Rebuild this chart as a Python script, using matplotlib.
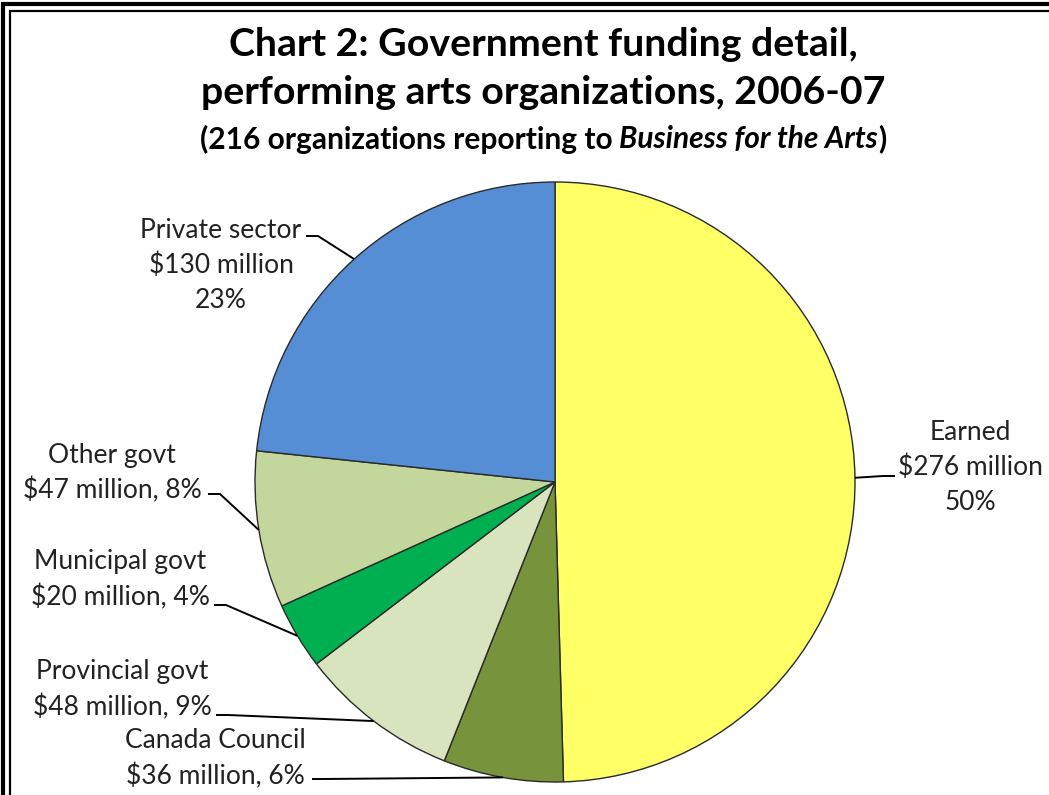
import matplotlib
matplotlib.use("Agg")
import matplotlib.pyplot as plt
import numpy as np

# Funding sources, performing arts organizations 2006-07 ($ millions)
sources = ["Earned", "Canada Council", "Provincial govt", "Municipal govt",
           "Other govt", "Private sector"]
amounts = [276, 36, 48, 20, 47, 130]
colors = ["#FFFF66", "#77933C", "#D7E4BD", "#00B050", "#C3D69B", "#558ED5"]

title_lines = ["Chart 2: Government funding detail,",
               "performing arts organizations, 2006-07"]
subtitle_parts = [("(216 organizations reporting to ", "normal"),
                  ("Business for the Arts", "italic"),
                  (")", "normal")]

W, H = 1049, 795
FONT = "Lato"

fig = plt.figure(figsize=(W / 100, H / 100), dpi=100)
ax = fig.add_axes([0, 0, 1, 1])


def Y(y):
    """Convert a top-down pixel row to axis coordinates."""
    return H - y


# pie
cx, cy, R = 555, 482, 300
wedges, _ = ax.pie(amounts, colors=colors, startangle=90, counterclock=False,
                   center=(cx, Y(cy)), radius=R, frame=True,
                   wedgeprops=dict(edgecolor="#2a2a2a", linewidth=1.0))
ax.set_xlim(0, W)
ax.set_ylim(0, H)
ax.set_aspect("equal")
ax.axis("off")

total = sum(amounts)
pcts = [round(a / total * 100) for a in amounts]

# label layout: text center x, first line row, elbow of the leader line
layout = {
    "Earned":          dict(x=970, y0=432, elbow=(895, 476), side="left"),
    "Private sector":  dict(x=221, y0=230, elbow=(306, 236), side="right"),
    "Other govt":      dict(x=112, y0=455, elbow=(208, 494), side="right"),
    "Municipal govt":  dict(x=120, y0=562, elbow=(214, 605), side="right"),
    "Provincial govt": dict(x=122, y0=672, elbow=(216, 715), side="right"),
    "Canada Council":  dict(x=215, y0=741, elbow=(312, 779), side="right"),
}
pitch = 35.5
three_line = {"Earned", "Private sector"}

for w, name, amt, p in zip(wedges, sources, amounts, pcts):
    L = layout[name]
    if name in three_line:
        lines = [name, f"${amt} million", f"{p}%"]
    else:
        lines = [name, f"${amt} million, {p}%"]
    for i, s in enumerate(lines):
        ax.text(L["x"], Y(L["y0"] + i * pitch), s, ha="center", va="center",
                fontsize=19, family=FONT, color="#222222")
    # leader line to the middle of the wedge's outer arc
    mid = np.deg2rad((w.theta1 + w.theta2) / 2)
    ex, ey = w.center[0] + R * np.cos(mid), w.center[1] + R * np.sin(mid)
    bx, by = L["elbow"]
    hx = bx + (12 if L["side"] == "right" else -12)
    ax.plot([bx, hx, ex], [Y(by), Y(by), ey], color="black", lw=1.4,
            solid_capstyle="butt", zorder=5)

# titles
ax.text(543, Y(45), title_lines[0], ha="center", va="center", fontsize=28.3,
        fontweight="bold", family=FONT)
ax.text(543, Y(93), title_lines[1], ha="center", va="center", fontsize=28.3,
        fontweight="bold", family=FONT)

# subtitle with an italic run, laid out piece by piece
fig.canvas.draw()
renderer = fig.canvas.get_renderer()
pieces = []
for s, st in subtitle_parts:
    t = ax.text(0, Y(139), s, ha="left", va="center", fontsize=21.5,
                fontweight="bold", style=st, family=FONT)
    pieces.append(t)
widths = [t.get_window_extent(renderer).width for t in pieces]
x = 543 - sum(widths) / 2
for t, wd in zip(pieces, widths):
    t.set_x(x)
    x += wd

# double frame along the top and left edges
ax.plot([3, 3, W], [0, Y(4), Y(4)], color="black", lw=3.0,
        solid_joinstyle="miter", zorder=10)
ax.plot([10, 10, W], [0, Y(10.5), Y(10.5)], color="black", lw=1.6,
        solid_joinstyle="miter", zorder=10)

fig.savefig("out.png", dpi=100)
